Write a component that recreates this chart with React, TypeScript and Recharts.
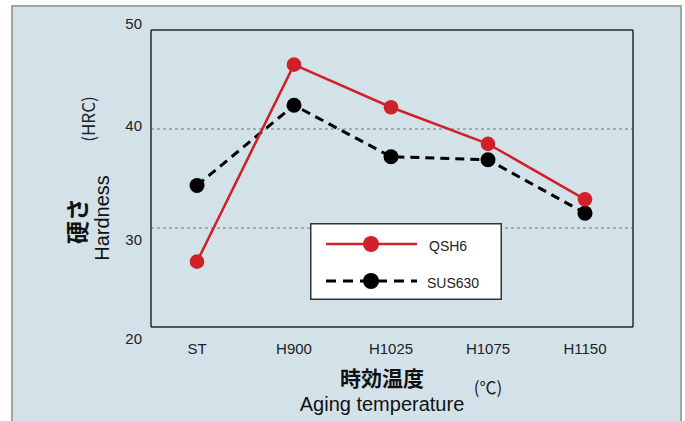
import React from 'react';
import { LineChart, Line, XAxis, YAxis, ReferenceLine, Legend } from 'recharts';

const categories = ['ST', 'H900', 'H1025', 'H1075', 'H1150'];
const qsh6 = [26.6, 46.5, 42.2, 38.5, 32.9];
const sus630 = [34.3, 42.4, 37.2, 36.9, 31.5];
const yTicks = [20, 30, 40, 50];
const gridValues = [30, 40];

const data = categories.map((c, i) => ({ name: c, QSH6: qsh6[i], SUS630: sus630[i] }));

const RED = '#d0202a';
const BG = '#d3e1e9';
const FRAME = { stroke: '#2a2a2a', strokeWidth: 1.5 };
const FONT = '"Liberation Sans", Arial, sans-serif';
const CJK = '"Noto Sans CJK JP", "Noto Sans", sans-serif';

const Y_LABEL_DY: Record<number, number> = { 50: -1, 40: 1.5, 30: 17, 20: 17 };

const YTick = (props: any) => {
  const { x, y, payload } = props;
  return (
    <text x={x - 1} y={y + (Y_LABEL_DY[payload.value] ?? 5)} textAnchor="end" fontSize={15} fill="#222" fontFamily={FONT}>
      {payload.value}
    </text>
  );
};

const XTick = (props: any) => {
  const { x, y, payload } = props;
  return (
    <text x={x} y={y + 19} textAnchor="middle" fontSize={15} fill="#222" fontFamily={FONT}>
      {payload.value}
    </text>
  );
};

const LegendContent = (props: any) => {
  const items = props.payload || [];
  return (
    <svg width={192} height={77} style={{ display: 'block' }}>
      <rect x={0.75} y={0.75} width={190.5} height={75.5} fill="#fff" stroke="#333" strokeWidth={1.5} />
      {items.map((it: any, i: number) => {
        const cy = i === 0 ? 21 : 58;
        const dashed = it.dataKey === 'SUS630';
        return (
          <g key={it.value}>
            <line x1={16} x2={107} y1={cy} y2={cy} stroke={it.color} strokeWidth={dashed ? 3 : 2.5} strokeDasharray={dashed ? '10 7' : undefined} />
            <circle cx={61} cy={cy} r={8} fill={it.color} />
            <text x={dashed ? 117 : 119} y={cy + 7} fontSize={14} fill="#222" fontFamily={FONT}>
              {it.value}
            </text>
          </g>
        );
      })}
    </svg>
  );
};

export default function App() {
  return (
    <div style={{ position: 'relative', width: 685, height: 421, overflow: 'hidden', background: '#fff' }}>
      <style>{'body{margin:0}'}</style>
      <div
        style={{
          position: 'absolute',
          left: 11,
          top: 5,
          width: 667,
          height: 440,
          border: '2px solid #a3a3a3',
          background: BG,
        }}
      />
      <div style={{ position: 'absolute', left: 0, top: 0 }}>
        <LineChart width={685} height={421} data={data} margin={{ top: 29, right: 51, left: 0, bottom: 0 }}>
          <XAxis
            dataKey="name"
            height={94}
            axisLine={FRAME}
            tickLine={false}
            tick={<XTick />}
            interval={0}
            padding={{ left: 46, right: 48 }}
          />
          <XAxis xAxisId="top" dataKey="name" orientation="top" height={1} tick={false} tickLine={false} axisLine={FRAME} />
          <YAxis
            domain={[20, 50]}
            ticks={yTicks}
            width={151}
            axisLine={FRAME}
            tickLine={false}
            tick={<YTick />}
            allowDataOverflow
          />
          <YAxis yAxisId="right" orientation="right" domain={[20, 50]} width={1} tick={false} tickLine={false} axisLine={FRAME} />
          {gridValues.map((v) => (
            <ReferenceLine key={v} y={v} stroke="#777" strokeWidth={1} strokeDasharray="3 3" />
          ))}
          <Legend
            layout="horizontal"
            verticalAlign="middle"
            align="center"
            content={<LegendContent />}
            wrapperStyle={{ left: 310, top: 223, width: 192, height: 77 }}
          />
          <Line
            type="linear"
            dataKey="SUS630"
            stroke="#000"
            strokeWidth={3}
            strokeDasharray="9 6"
            dot={{ r: 7.5, fill: '#000', stroke: 'none' }}
            isAnimationActive={false}
          />
          <Line
            type="linear"
            dataKey="QSH6"
            stroke={RED}
            strokeWidth={2.5}
            dot={{ r: 7.3, fill: RED, stroke: 'none' }}
            isAnimationActive={false}
          />
        </LineChart>
      </div>
      <svg width={685} height={421} style={{ position: 'absolute', left: 0, top: 0, pointerEvents: 'none' }}>
        <text x={382} y={386} textAnchor="middle" fontSize={21} fontWeight={600} fill="#111" fontFamily={CJK}>
          時効温度
        </text>
        <text x={488} y={394} textAnchor="middle" fontSize={17} fill="#222" fontFamily={CJK}>
          (℃)
        </text>
        <text x={382} y={411} textAnchor="middle" fontSize={20} fill="#111" fontFamily={FONT}>
          Aging temperature
        </text>
        <text transform="translate(95,119) rotate(-90)" textAnchor="middle" fontSize={17} fill="#222" fontFamily={CJK}>
          (HRC)
        </text>
        <text transform="translate(86,221) rotate(-90)" textAnchor="middle" fontSize={23} fontWeight={700} fill="#111" fontFamily={CJK}>
          硬さ
        </text>
        <text transform="translate(109,218) rotate(-90)" textAnchor="middle" fontSize={20} fill="#111" fontFamily={FONT}>
          Hardness
        </text>
      </svg>
    </div>
  );
}
